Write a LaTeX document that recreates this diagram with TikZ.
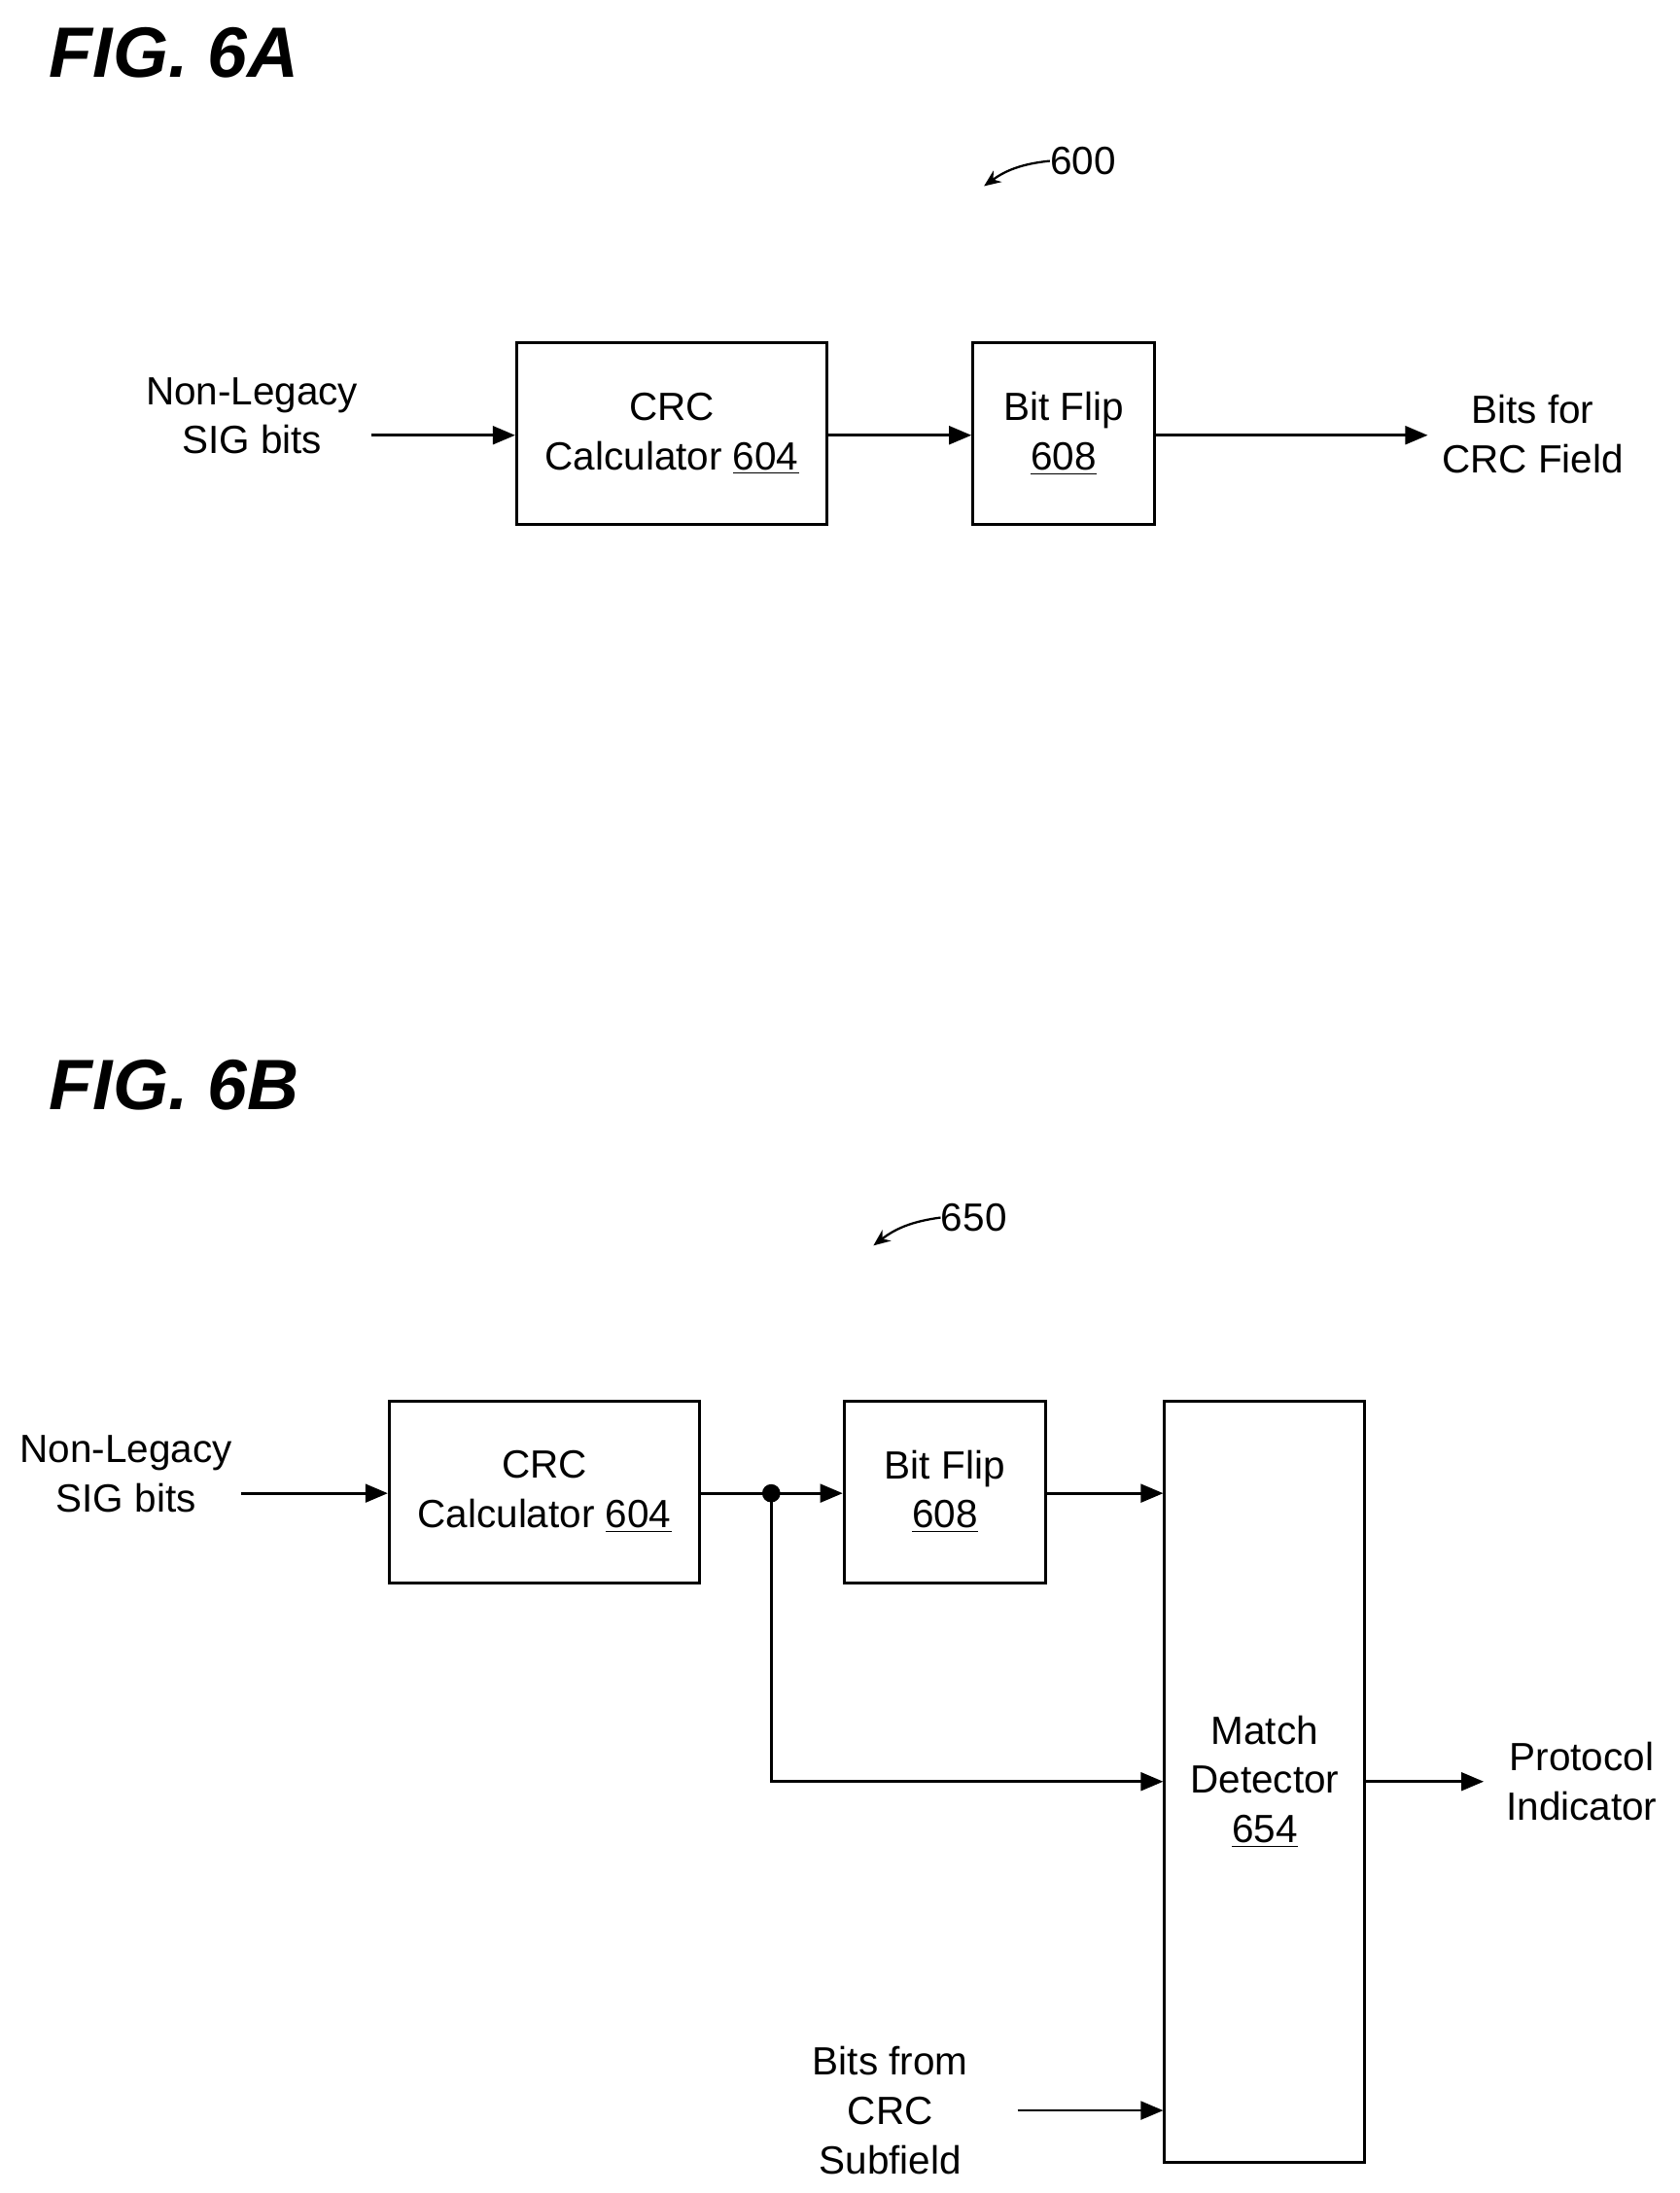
\documentclass[tikz,border=0pt]{standalone}
\usepackage{fontspec}
\setmainfont{Liberation Sans}
\usepackage{tikz}
\usetikzlibrary{positioning, arrows.meta}
\tikzset{
    base/.style={
        font=\fontsize{16}{20}\selectfont,
        align=center
    },
    block/.style={
        base,
        rectangle,
        draw=black,
        line width=1.1pt,
        inner sep=0pt
    },
    txt/.style={
        base,
        inner sep=0pt
    },
    figlabel/.style={
        font=\fontsize{29}{30}\selectfont\bfseries\itshape,
        anchor=west,
        inner sep=0pt
    },
    flow/.style={
        -{Triangle[length=3.2mm, width=2.6mm]},
        line width=1.1pt
    },
    refarrow/.style={
        -{Stealth[length=2.4mm, width=2mm]},
        line width=0.9pt
    }
}
\begin{document}
\begin{tikzpicture}[x=0.02cm, y=-0.02cm]
    \useasboundingbox (0,0) rectangle (1200,1567);

    % FIG. 6A
    \node[figlabel] (figA) at (35,38) {FIG. 6A};
    \node[txt, anchor=west] (n600) at (750,115) {600};
    \coordinate (a600) at (703,133);
    \draw[refarrow] (n600.west) to[bend right=15] (a600);

    \node[block, minimum width=4.44cm, minimum height=2.6cm] (crcA) at (480,310) {CRC\\Calculator \underline{604}};
    \node[block, minimum width=2.6cm, minimum height=2.6cm] (flipA) at (760,310) {Bit Flip\\\underline{608}};
    \node[txt] (inA) at (180,297) {Non-Legacy\\SIG bits};
    \node[txt] (outA) at (1095,310) {Bits for\\CRC Field};
    \coordinate (inAend) at (265,311);
    \coordinate (outAend) at (1020,311);

    \draw[flow] (inAend) -- (crcA.west |- inAend);
    \draw[flow] (crcA.east |- inAend) -- (flipA.west |- inAend);
    \draw[flow] (flipA.east |- inAend) -- (outAend);

    % FIG. 6B
    \node[figlabel] (figB) at (35,775) {FIG. 6B};
    \node[txt, anchor=west] (n650) at (672,870) {650};
    \coordinate (a650) at (624,890);
    \draw[refarrow] (n650.west) to[bend right=15] (a650);

    \node[block, minimum width=4.44cm, minimum height=2.6cm] (crcB) at (389,1066) {CRC\\Calculator \underline{604}};
    \node[block, minimum width=2.88cm, minimum height=2.6cm] (flipB) at (675,1066) {Bit Flip\\\underline{608}};
    \node[block, minimum width=2.86cm, minimum height=10.88cm] (match) at (903.5,1273) {Match\\Detector\\\underline{654}};
    \node[txt] (inB) at (90,1053) {Non-Legacy\\SIG bits};
    \node[txt] (outB) at (1130,1273) {Protocol\\Indicator};
    \node[txt] (subB) at (636,1508) {Bits from\\CRC\\Subfield};

    \coordinate (inBend) at (172,1067);
    \coordinate (split) at (551,1067);
    \coordinate (corner) at (551,1273);
    \coordinate (outBend) at (1060,1273);
    \coordinate (subBend) at (727,1508);

    \draw[flow] (inBend) -- (crcB.west |- inBend);
    \draw[line width=1.1pt] (crcB.east |- split) -- (split);
    \draw[flow] (split) -- (flipB.west |- split);
    \fill (split) circle (6.5);
    \draw[flow] (split) -- (corner) -- (match.west |- corner);
    \draw[flow] (flipB.east |- split) -- (match.west |- split);
    \draw[flow] (match.east |- corner) -- (outBend);
    \draw[flow] (subBend) -- (match.west |- subBend);
\end{tikzpicture}
\end{document}
